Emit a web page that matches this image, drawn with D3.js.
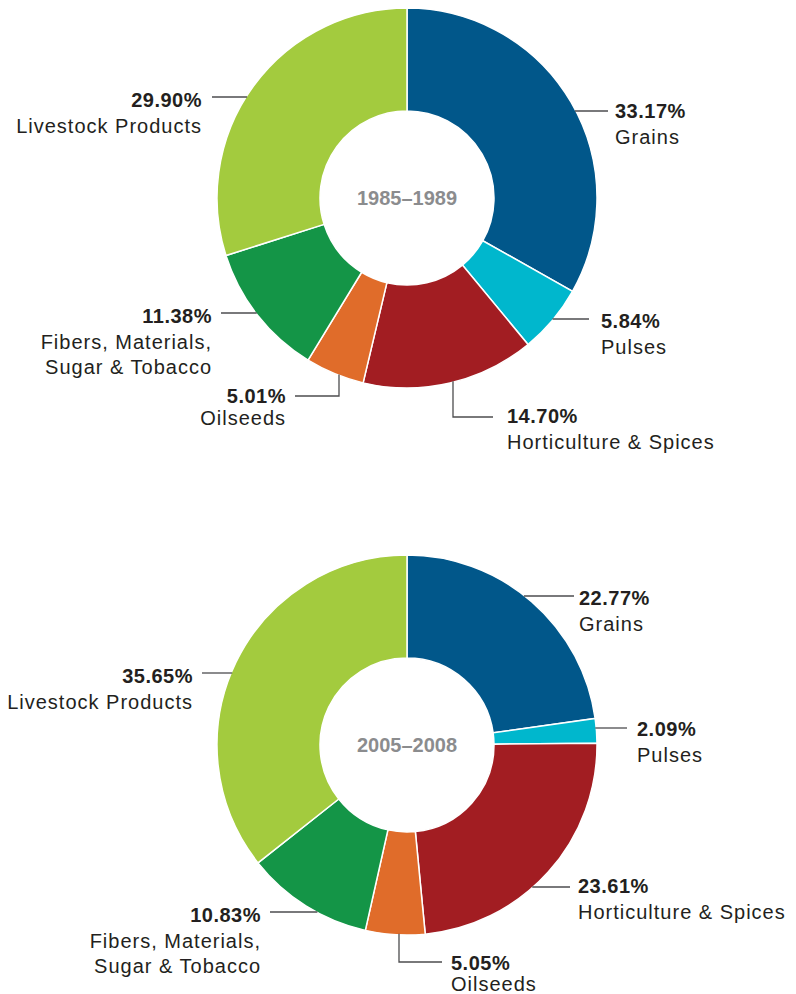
<!DOCTYPE html>
<html>
<head>
<meta charset="utf-8">
<script src="https://cdn.jsdelivr.net/npm/d3@7"></script>
<style>
    body { margin: 0; background: #ffffff; }
    svg { display: block; }
    .pct { font-family: "Liberation Sans", Arial, Helvetica, sans-serif; font-weight: bold; font-size: 20px; letter-spacing: 0.5px; fill: #231f20; }
    .name { font-family: "Liberation Sans", Arial, Helvetica, sans-serif; font-size: 20px; letter-spacing: 1px; fill: #231f20; }
    .period { font-family: "Liberation Sans", Arial, Helvetica, sans-serif; font-weight: bold; font-size: 20px; fill: #8b8c8e; }
</style>
</head>
<body>
<div id="chart"></div>
<script>
// Data
const categories = ['Grains', 'Pulses', 'Horticulture & Spices', 'Oilseeds',
    'Fibers, Materials, Sugar & Tobacco', 'Livestock Products'];
const labelLines = [['Grains'], ['Pulses'], ['Horticulture & Spices'], ['Oilseeds'],
    ['Fibers, Materials,', 'Sugar & Tobacco'], ['Livestock Products']];
const periods = ['1985–1989', '2005–2008'];
const shares1985 = [33.17, 5.84, 14.70, 5.01, 11.38, 29.90];
const shares2005 = [22.77, 2.09, 23.61, 5.05, 10.83, 35.65];
const colors = ['#01578a', '#00b7cd', '#a21d22', '#e06c2a', '#149547', '#a3cb3e'];

// Label placement per chart (offsets from the donut centre)
// ly: leader y, end: leader end x, tx: text x, ty: percent baseline, gap: to name line
const layout = [
    {
        cx: 407, cy: 198,
        labels: [
            { ly: -87, end: 201, tx: 208, ty: -80 },
            { ly: 121, end: 182, tx: 194, ty: 130 },
            { ly: 219, end: 86, tx: 100, ty: 225, elbow: 46 },
            { ly: 198, end: -112, tx: -121, ty: 205, elbow: -68, gap: 22 },
            { ly: 115, end: -186, tx: -195, ty: 125 },
            { ly: -101, end: -195, tx: -205, ty: -91 }
        ]
    },
    {
        cx: 407, cy: 745,
        labels: [
            { ly: -149, end: 167, tx: 172, ty: -140 },
            { ly: -17, end: 220, tx: 230, ty: -9 },
            { ly: 142, end: 163, tx: 171, ty: 148 },
            { ly: 217, end: 35, tx: 44, ty: 225, elbow: -8, gap: 21 },
            { ly: 167, end: -137, tx: -146, ty: 177 },
            { ly: -72, end: -205, tx: -214, ty: -62 }
        ]
    }
];

const width = 796, height = 994;
const outerR = 190, innerR = 87;

const svg = d3.select('#chart')
    .append('svg')
    .attr('width', width)
    .attr('height', height);

const pie = d3.pie().sort(null).value(d => d.value);
const arc = d3.arc().innerRadius(innerR).outerRadius(outerR);

[shares1985, shares2005].forEach((shares, ci) => {
    const conf = layout[ci];
    const data = shares.map((v, i) => ({ key: categories[i], value: v, idx: i }));
    const g = svg.append('g')
        .attr('transform', `translate(${conf.cx},${conf.cy})`);

    // Slices
    g.selectAll('.slice')
        .data(pie(data))
        .enter()
        .append('path')
        .attr('class', 'slice')
        .attr('d', arc)
        .attr('fill', d => colors[d.data.idx])
        .attr('stroke', '#ffffff')
        .attr('stroke-width', 1.5);

    // Centre label
    g.append('text')
        .attr('class', 'period')
        .attr('text-anchor', 'middle')
        .attr('dominant-baseline', 'central')
        .text(periods[ci]);

    // Leader lines and labels
    data.forEach((d, i) => {
        const lab = conf.labels[i];
        let pts;
        if (lab.elbow !== undefined) {
            const y0 = Math.sqrt(outerR * outerR - lab.elbow * lab.elbow) - 1;
            pts = [[lab.elbow, y0], [lab.elbow, lab.ly], [lab.end, lab.ly]];
        } else {
            const sx = Math.sign(lab.end) * (Math.sqrt(outerR * outerR - lab.ly * lab.ly) - 1);
            pts = [[sx, lab.ly], [lab.end, lab.ly]];
        }
        g.append('path')
            .attr('d', d3.line()(pts))
            .attr('fill', 'none')
            .attr('stroke', '#4d4d4f')
            .attr('stroke-width', 1.3);

        const anchor = lab.tx > lab.end ? 'start' : 'end';
        g.append('text')
            .attr('class', 'pct')
            .attr('x', lab.tx)
            .attr('y', lab.ty)
            .attr('text-anchor', anchor)
            .text(d.value.toFixed(2) + '%');

        const gap = lab.gap || 25.5;
        labelLines[i].forEach((line, li) => {
            g.append('text')
                .attr('class', 'name')
                .attr('x', lab.tx)
                .attr('y', lab.ty + gap + li * 25)
                .attr('text-anchor', anchor)
                .text(line);
        });
    });
});
</script>
</body>
</html>
